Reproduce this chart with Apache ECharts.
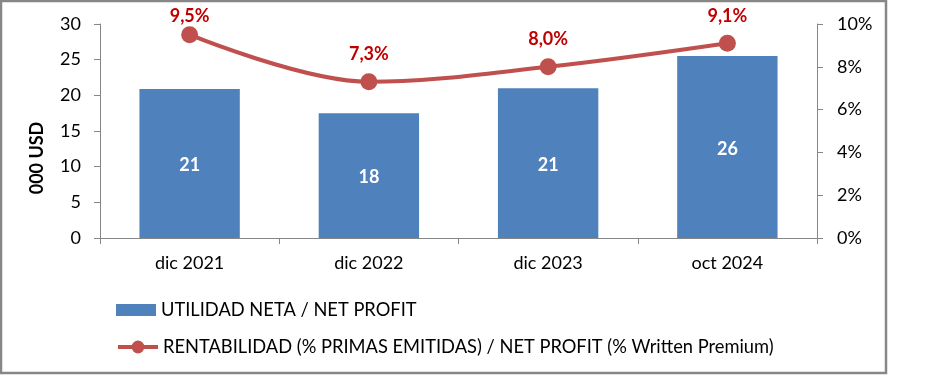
<!DOCTYPE html>
<html>
<head>
<meta charset="utf-8">
<script src="https://cdn.jsdelivr.net/npm/echarts@6/dist/echarts.min.js"></script>
<style>
  html, body { margin: 0; padding: 0; background: #fff; }
  #main { width: 930px; height: 376px; }
</style>
</head>
<body>
<div id="main"></div>
<script>
// datos del gráfico
const categories = ['dic 2021', 'dic 2022', 'dic 2023', 'oct 2024'];
const netProfit = [20.9, 17.5, 21.0, 25.5];
const netProfitLabels = ['21', '18', '21', '26'];
const profitability = [9.5, 7.3, 8.0, 9.1];

const barName = 'UTILIDAD NETA / NET PROFIT';
const lineName = 'RENTABILIDAD (% PRIMAS EMITIDAS) / NET PROFIT (% Written Premium)';

const FONT = 'Lato, "Open Sans", sans-serif';

const chart = echarts.init(document.getElementById('main'));

const axisLine = { show: true, lineStyle: { color: '#868686', width: 1 } };
const axisTick = { show: true, length: 6, lineStyle: { color: '#868686' } };
const legendText = { fontFamily: FONT, fontSize: 18.3, color: '#000' };

// la primera etiqueta queda pegada al borde superior, como en Excel
const lineData = profitability.map((v, i) =>
  i === 0 ? { value: v, label: { offset: [0, 9] } } : v
);

const option = {
  animation: false,
  textStyle: { fontFamily: FONT },
  grid: { left: 100, right: 113, top: 24, bottom: 138 },
  legend: [
    {
      left: 116,
      top: 301,
      padding: 0,
      itemWidth: 40,
      itemHeight: 12,
      itemGap: 4,
      textStyle: legendText,
      data: [{ name: barName, icon: 'rect' }]
    },
    {
      left: 116,
      top: 338,
      padding: 0,
      itemWidth: 40,
      itemHeight: 16,
      itemGap: 4,
      textStyle: legendText,
      data: [{ name: lineName, lineStyle: { width: 4 } }]
    }
  ],
  xAxis: {
    type: 'category',
    data: categories,
    axisLine: axisLine,
    axisTick: { show: true, length: 6, lineStyle: { color: '#868686' } },
    axisLabel: { fontSize: 18, color: '#000', margin: 16, fontFamily: FONT }
  },
  yAxis: [
    {
      type: 'value',
      min: 0, max: 30, interval: 5,
      axisLine: axisLine,
      axisTick: axisTick,
      splitLine: { show: false },
      axisLabel: { fontSize: 18, color: '#000', margin: 19, fontFamily: FONT }
    },
    {
      type: 'value',
      min: 0, max: 10, interval: 2,
      position: 'right',
      axisLine: axisLine,
      axisTick: axisTick,
      splitLine: { show: false },
      axisLabel: { fontSize: 18, color: '#000', margin: 20, fontFamily: FONT, formatter: '{value}%' }
    }
  ],
  series: [
    {
      name: barName,
      type: 'bar',
      data: netProfit,
      barCategoryGap: '44%',
      itemStyle: { color: '#4F81BD' },
      label: {
        show: true,
        position: 'inside',
        offset: [0, 2],
        color: '#fff',
        fontWeight: 'bold',
        fontSize: 18,
        fontFamily: FONT,
        formatter: p => netProfitLabels[p.dataIndex]
      }
    },
    {
      name: lineName,
      type: 'line',
      yAxisIndex: 1,
      data: lineData,
      smooth: 0.35,
      symbol: 'circle',
      symbolSize: 17,
      lineStyle: { color: '#C0504D', width: 4 },
      itemStyle: { color: '#C0504D' },
      label: {
        show: true,
        position: 'top',
        distance: 10,
        color: '#C00000',
        fontWeight: 'bold',
        fontSize: 18,
        fontFamily: FONT,
        formatter: p => p.value.toFixed(1).replace('.', ',') + '%'
      }
    }
  ],
  graphic: [
    {
      type: 'rect',
      shape: { x: 1, y: 1, width: 885, height: 372 },
      style: { fill: 'none', stroke: '#878787', lineWidth: 2.5 },
      silent: true
    },
    {
      type: 'text',
      x: 37,
      y: 158,
      rotation: Math.PI / 2,
      style: {
        text: '000 USD',
        font: 'bold 18px ' + FONT,
        fill: '#000',
        align: 'center',
        verticalAlign: 'middle'
      }
    }
  ]
};

chart.setOption(option);
</script>
</body>
</html>
